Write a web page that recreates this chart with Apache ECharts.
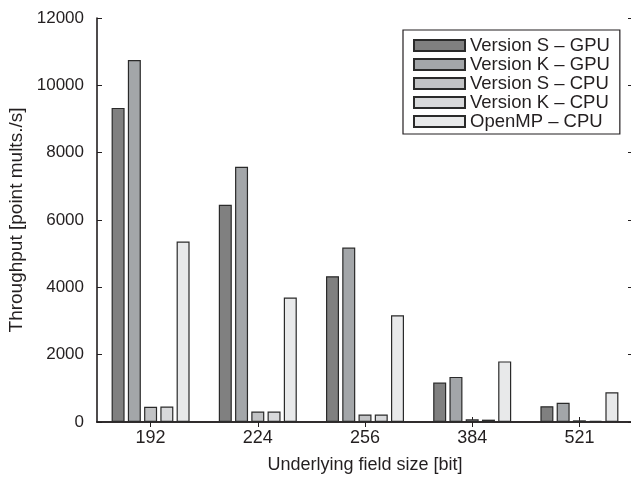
<!DOCTYPE html>
<html>
<head>
<meta charset="utf-8">
<script src="https://cdn.jsdelivr.net/npm/echarts@6/dist/echarts.min.js"></script>
<style>
html,body{margin:0;padding:0;background:#fff;}
#chart{width:631px;height:477px;}
</style>
</head>
<body>
<div id="chart"></div>
<script>
const categories = ['192', '224', '256', '384', '521'];
const seriesNames = ['Version S \u2013 GPU', 'Version K \u2013 GPU', 'Version S \u2013 CPU', 'Version K \u2013 CPU', 'OpenMP \u2013 CPU'];
const versionSGPU = [9330, 6450, 4330, 1170, 470];
const versionKGPU = [10750, 7580, 5180, 1340, 570];
const versionSCPU = [450, 310, 220, 80, 50];
const versionKCPU = [460, 310, 220, 70, 35];
const openMPCPU = [5360, 3700, 3170, 1800, 880];
const yTicks = [0, 2000, 4000, 6000, 8000, 10000, 12000];

const colors = ['#808080', '#a3a6a9', '#c2c3c5', '#d8d9db', '#e8e9ea'];
const allData = [versionSGPU, versionKGPU, versionSCPU, versionKCPU, openMPCPU];
const font = 'Liberation Sans, Arial, Helvetica, sans-serif';
const ink = '#231f20';

const chart = echarts.init(document.getElementById('chart'));
const axisLine = {show: true, lineStyle: {color: ink, width: 1.6}};
chart.setOption({
  animation: false,
  backgroundColor: '#fff',
  textStyle: {fontFamily: font, color: ink},
  grid: {left: 97, top: 18, width: 536, height: 404, containLabel: false, outerBoundsMode: 'none'},
  legend: {
    orient: 'vertical',
    left: 403, top: 30,
    data: seriesNames,
    itemWidth: 51, itemHeight: 11, itemGap: 0, itemTextGap: 5,
    padding: [6, 10, 3, 10],
    borderColor: ink, borderWidth: 1.2,
    backgroundColor: '#fff',
    textStyle: {fontFamily: font, fontSize: 18.5, color: ink, lineHeight: 15},
    icon: 'rect'
  },
  xAxis: [{
    type: 'category', data: categories, position: 'bottom',
    axisLine: axisLine,
    axisTick: {show: true, inside: true, alignWithLabel: true, length: 5, lineStyle: {color: ink, width: 1}},
    axisLabel: {fontFamily: font, fontSize: 18, color: ink, margin: 7},
    name: 'Underlying field size [bit]', nameLocation: 'middle', nameGap: 34,
    nameTextStyle: {fontFamily: font, fontSize: 18, color: ink}
  }, {
    type: 'category', data: categories, position: 'top',
    axisLine: axisLine,
    axisTick: {show: true, inside: true, alignWithLabel: true, length: 5, lineStyle: {color: ink, width: 1}},
    axisLabel: {show: false}
  }],
  yAxis: [{
    type: 'value', min: 0, max: 12000, interval: 2000,
    axisLine: axisLine,
    axisTick: {show: true, inside: true, length: 5, lineStyle: {color: ink, width: 1}},
    splitLine: {show: false},
    axisLabel: {fontFamily: font, fontSize: 17, color: ink, margin: 13,
      formatter: v => yTicks.includes(v) ? String(v) : ''},
    name: 'Throughput [point mults./s]', nameLocation: 'middle', nameGap: 68,
    nameTextStyle: {fontFamily: font, fontSize: 19, color: ink}
  }, {
    type: 'value', min: 0, max: 12000, interval: 2000, position: 'right',
    axisLine: axisLine,
    axisTick: {show: true, inside: true, length: 5, lineStyle: {color: ink, width: 1}},
    splitLine: {show: false},
    axisLabel: {show: false}
  }],
  series: seriesNames.map((name, i) => ({
    name: name,
    type: 'bar',
    xAxisIndex: 0, yAxisIndex: 0,
    data: allData[i],
    barWidth: 13,
    barGap: '25%',
    itemStyle: {color: colors[i], borderColor: '#2a2a2a', borderWidth: 1.2}
  }))
});
</script>
</body>
</html>
